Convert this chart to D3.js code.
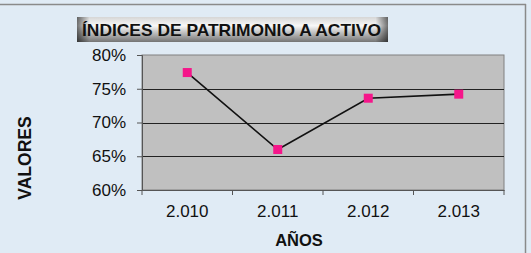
<!DOCTYPE html>
<html>
<head>
<meta charset="utf-8">
<script src="https://cdn.jsdelivr.net/npm/d3@7"></script>
<style>
	body { margin: 0; background: #fff; }
	svg { display: block; font-family: "Liberation Sans", Arial, sans-serif; }
</style>
</head>
<body>
<div id="chart"></div>
<script>
const years = ["2.010", "2.011", "2.012", "2.013"];
const values = [0.774, 0.660, 0.736, 0.742];
const yTicks = [0.60, 0.65, 0.70, 0.75, 0.80];

const width = 531,
	height = 253;
const plot = { left: 142, right: 504, top: 55, bottom: 190 };

const svg = d3
	.select("#chart")
	.append("svg")
	.attr("width", width)
	.attr("height", height);

const defs = svg.append("defs");

// title box gradient: light middle, dark bottom and edges
const gv = defs.append("linearGradient").attr("id", "tv").attr("x1", 0).attr("y1", 0).attr("x2", 0).attr("y2", 1);
gv.append("stop").attr("offset", "0%").attr("stop-color", "#d6d6d6");
gv.append("stop").attr("offset", "35%").attr("stop-color", "#f8f8f8");
gv.append("stop").attr("offset", "100%").attr("stop-color", "#747474");
const gh = defs.append("linearGradient").attr("id", "th").attr("x1", 0).attr("y1", 0).attr("x2", 1).attr("y2", 0);
gh.append("stop").attr("offset", "0%").attr("stop-color", "#000").attr("stop-opacity", 0.55);
gh.append("stop").attr("offset", "4%").attr("stop-color", "#000").attr("stop-opacity", 0);
gh.append("stop").attr("offset", "96%").attr("stop-color", "#000").attr("stop-opacity", 0);
gh.append("stop").attr("offset", "100%").attr("stop-color", "#000").attr("stop-opacity", 0.55);

// background
svg.append("rect").attr("width", width).attr("height", height).attr("fill", "#e0ebf5");
svg.append("line").attr("x1", 0).attr("x2", 526).attr("y1", 4.5).attr("y2", 4.5).attr("stroke", "#8a8a8a").attr("stroke-width", 1.5);
svg.append("line").attr("x1", 525.5).attr("x2", 525.5).attr("y1", 4).attr("y2", height).attr("stroke", "#8a8a8a").attr("stroke-width", 1.5);

const x = d3.scaleBand().domain(years).range([plot.left, plot.right]);
const y = d3.scaleLinear().domain([0.60, 0.80]).range([plot.bottom, plot.top]);

// plot area
svg.append("rect")
	.attr("x", plot.left)
	.attr("y", plot.top)
	.attr("width", plot.right - plot.left)
	.attr("height", plot.bottom - plot.top)
	.attr("fill", "#c0c0c0")
	.attr("stroke", "#808080")
	.attr("stroke-width", 1);

svg.append("g")
	.selectAll("line")
	.data(yTicks.slice(1, -1))
	.join("line")
	.attr("x1", plot.left)
	.attr("x2", plot.right)
	.attr("y1", (d) => Math.round(y(d)) + 0.5)
	.attr("y2", (d) => Math.round(y(d)) + 0.5)
	.attr("stroke", "#222");

// axes
const yAxis = svg.append("g")
	.attr("transform", `translate(${plot.left},0)`)
	.call(d3.axisLeft(y).tickValues(yTicks).tickFormat(d3.format(".0%")).tickSize(5).tickPadding(11));
const xAxis = svg.append("g")
	.attr("transform", `translate(0,${plot.bottom})`)
	.call(d3.axisBottom(x).tickSize(0).tickPadding(15));
xAxis.selectAll(".tick line").remove();
xAxis.append("g")
	.selectAll("line")
	.data(years.map((d) => x(d)).concat([plot.right]))
	.join("line")
	.attr("x1", (d) => d)
	.attr("x2", (d) => d)
	.attr("y1", 0)
	.attr("y2", 5)
	.attr("stroke", "#555");

[yAxis, xAxis].forEach((g) => {
	g.selectAll(".domain").attr("stroke", "#555");
	g.selectAll(".tick line").attr("stroke", "#555");
	g.selectAll("text").attr("fill", "#111").style("font-size", "17px").style("font-family", "Liberation Sans, Arial, sans-serif");
});

// series
const line = d3.line().x((d, i) => x(years[i]) + x.bandwidth() / 2).y((d) => y(d));
svg.append("path").datum(values).attr("d", line).attr("fill", "none").attr("stroke", "#111").attr("stroke-width", 1.6);
svg.append("g")
	.selectAll("rect")
	.data(values)
	.join("rect")
	.attr("x", (d, i) => x(years[i]) + x.bandwidth() / 2 - 4.5)
	.attr("y", (d) => y(d) - 4.5)
	.attr("width", 9)
	.attr("height", 9)
	.attr("fill", "#f5168a");

// title
const title = svg.append("g");
title.append("rect").attr("x", 77).attr("y", 17).attr("width", 311).attr("height", 25).attr("fill", "url(#tv)");
title.append("rect").attr("x", 77).attr("y", 17).attr("width", 311).attr("height", 25).attr("fill", "url(#th)");
title.append("text")
	.attr("x", 82)
	.attr("y", 36)
	.attr("textLength", 299)
	.attr("lengthAdjust", "spacingAndGlyphs")
	.attr("font-weight", "bold")
	.attr("font-size", "17px")
	.attr("fill", "#111")
	.text("ÍNDICES DE PATRIMONIO A ACTIVO");

// axis titles
svg.append("text")
	.attr("x", 299)
	.attr("y", 246)
	.attr("text-anchor", "middle")
	.attr("font-weight", "bold")
	.attr("font-size", "16.5px")
	.attr("fill", "#111")
	.text("AÑOS");
svg.append("text")
	.attr("transform", "translate(31,158) rotate(-90)")
	.attr("text-anchor", "middle")
	.attr("font-weight", "bold")
	.attr("font-size", "17.5px")
	.attr("fill", "#111")
	.text("VALORES");
</script>
</body>
</html>
